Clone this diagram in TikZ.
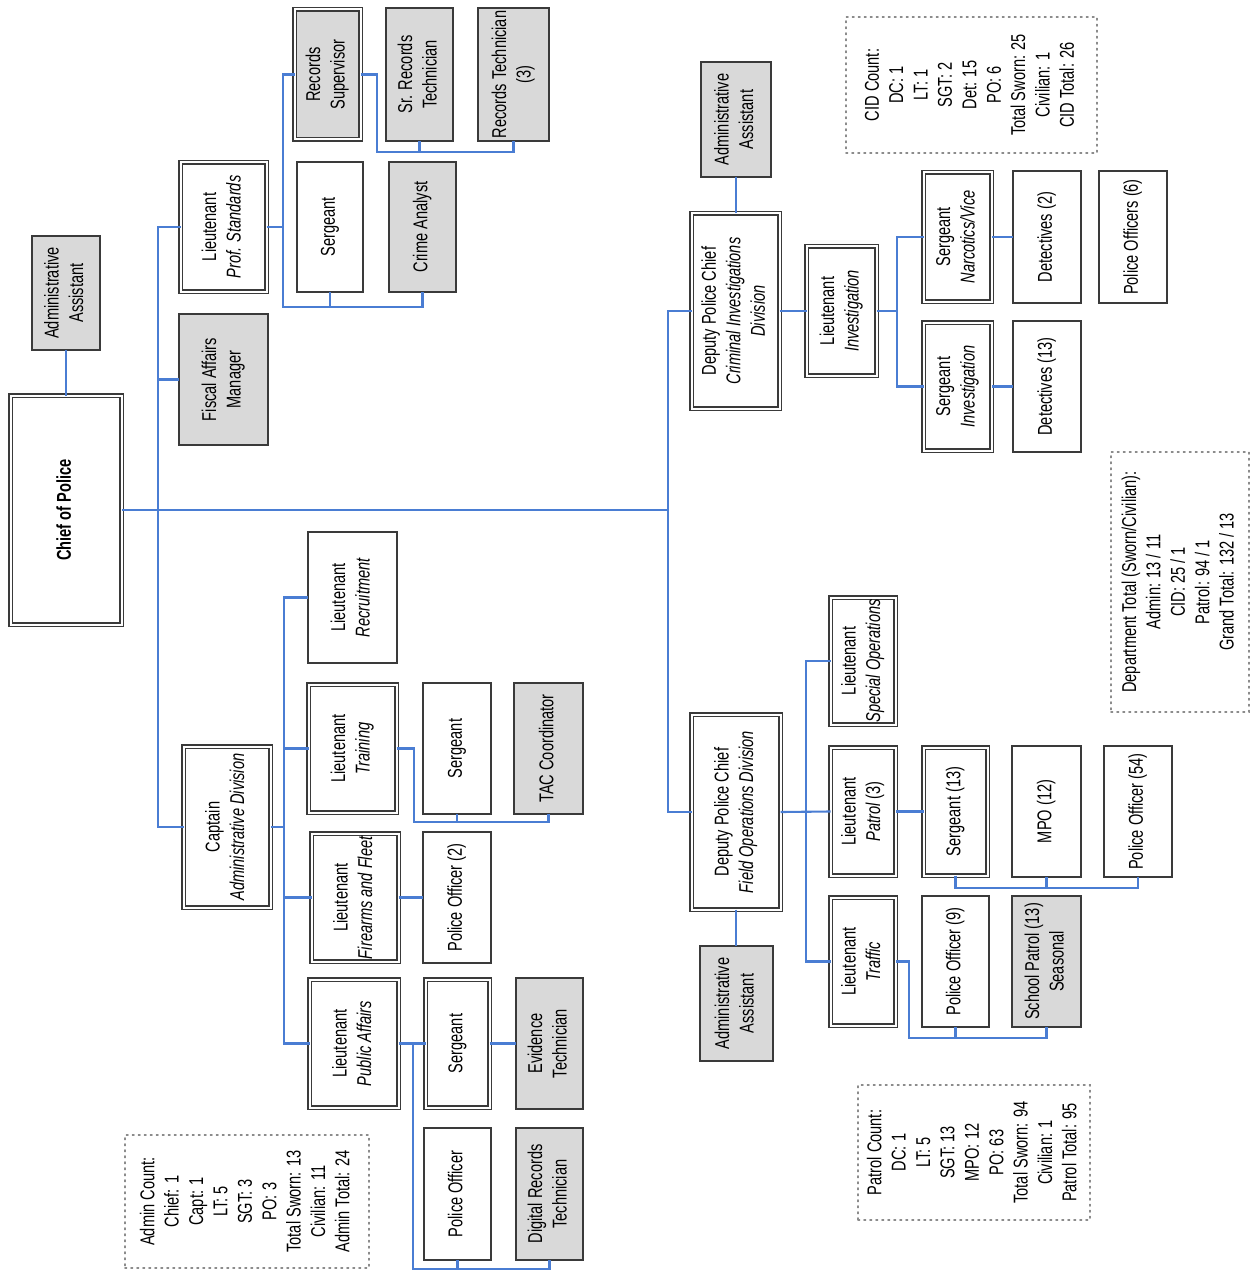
\documentclass[tikz,border=0pt]{standalone}
\usepackage{fontspec}
\setmainfont{Liberation Sans}[FakeStretch=0.73]
\usepackage{graphicx}
\definecolor{bordc}{HTML}{3A3A3A}
\definecolor{fillg}{HTML}{D9D9D9}
\definecolor{connc}{HTML}{4A7DD3}
\definecolor{dotc}{HTML}{8C8C8C}
\newcommand{\rt}[1]{\rotatebox{90}{\begin{tabular}{@{}c@{}}#1\end{tabular}}}
\begin{document}
\begin{tikzpicture}[x=1pt,y=-1pt,
  every node/.style={inner sep=0pt, outer sep=0pt, font=\fontsize{20}{24.4}\selectfont},
  box/.style={draw=bordc, line width=2pt, fill=white, rectangle},
  gbox/.style={box, fill=fillg},
  dbox/.style={box, double=white, double distance=2pt, line width=1.6pt},
  gdbox/.style={dbox, fill=fillg},
  countbox/.style={draw=dotc, line width=1.6pt, dash pattern=on 1.6pt off 4.4pt, line cap=round},
  conn/.style={draw=connc, line width=2.1pt}]
\useasboundingbox (0,0) rectangle (1250,1273);

% ---------- Admin side ----------
\node[gbox, minimum width=68, minimum height=114] (aa1) at (66,293) {\rt{Administrative\\Assistant}};
\node[dbox, minimum width=111, minimum height=229] (chief) at (66,510) {\rt{\textbf{Chief of Police}}};
\node[gbox, minimum width=89, minimum height=131] (fiscal) at (223.5,379.5) {\rt{Fiscal Affairs\\Manager}};
\node[dbox, minimum width=86, minimum height=129] (ltps) at (223.5,227) {\rt{Lieutenant\\\textit{Prof. Standards}}};
\node[gdbox, minimum width=66, minimum height=130] (recsup) at (327.5,74.5) {\rt{Records\\Supervisor}};
\node[gbox, minimum width=67, minimum height=133] (srrec) at (419.5,74.5) {\rt{Sr. Records\\Technician}};
\node[gbox, minimum width=71, minimum height=133] (rectech) at (513.5,74.5) {\rt{Records Technician\\(3)}};
\node[box, minimum width=66, minimum height=130] (sgtps) at (330,227) {\rt{Sergeant}};
\node[gbox, minimum width=67, minimum height=130] (crime) at (422.5,227) {\rt{Crime Analyst}};

\node[box, minimum width=89, minimum height=131] (ltrec) at (352.5,597.5) {\rt{Lieutenant\\\textit{Recruitment}}};
\node[dbox, minimum width=88, minimum height=128] (lttrain) at (352.5,748.5) {\rt{Lieutenant\\\textit{Training}}};
\node[box, minimum width=68, minimum height=131] (sgttr) at (457,748.5) {\rt{Sergeant}};
\node[gbox, minimum width=69, minimum height=131] (tac) at (548.5,748.5) {\rt{TAC Coordinator}};
\node[dbox, minimum width=87, minimum height=161] (captain) at (227,827) {\rt{Captain\\\textit{Administrative Division}}};
\node[dbox, minimum width=87, minimum height=128] (ltfire) at (355,897.5) {\rt{Lieutenant\\\textit{Firearms and Fleet}}};
\node[box, minimum width=68, minimum height=131] (po2) at (457,897.5) {\rt{Police Officer (2)}};
\node[dbox, minimum width=89, minimum height=128] (ltpa) at (354,1043.5) {\rt{Lieutenant\\\textit{Public Affairs}}};
\node[dbox, minimum width=64, minimum height=128] (sgtpa) at (457.5,1043.5) {\rt{Sergeant}};
\node[gbox, minimum width=67, minimum height=131] (evid) at (549.5,1043.5) {\rt{Evidence\\Technician}};
\node[box, minimum width=67, minimum height=132] (popa) at (457.5,1194) {\rt{Police Officer}};
\node[gbox, minimum width=67, minimum height=132] (drt) at (549.5,1194) {\rt{Digital Records\\Technician}};
\node[countbox, minimum width=244, minimum height=133] (admincount) at (247,1201.5) {\rt{Admin Count:\\Chief: 1\\Capt: 1\\LT: 5\\SGT: 3\\PO: 3\\Total Sworn: 13\\Civilian: 11\\Admin Total: 24}};

% ---------- CID ----------
\node[gbox, minimum width=70, minimum height=115] (aa2) at (736,119.5) {\rt{Administrative\\Assistant}};
\node[dbox, minimum width=88, minimum height=195] (dpccid) at (735.5,311) {\rt{Deputy Police Chief\\\textit{Criminal Investigations}\\\textit{Division}}};
\node[dbox, minimum width=70, minimum height=129] (ltinv) at (841.5,311) {\rt{Lieutenant\\\textit{Investigation}}};
\node[dbox, minimum width=68, minimum height=129] (sgtnv) at (957.5,237) {\rt{Sergeant\\\textit{Narcotics/Vice}}};
\node[dbox, minimum width=68, minimum height=128] (sgtinv) at (957.5,386.5) {\rt{Sergeant\\\textit{Investigation}}};
\node[box, minimum width=68, minimum height=132] (det2) at (1047,237) {\rt{Detectives (2)}};
\node[box, minimum width=68, minimum height=131] (det13) at (1047,386.5) {\rt{Detectives (13)}};
\node[box, minimum width=68, minimum height=132] (po6) at (1133,237) {\rt{Police Officers (6)}};
\node[countbox, minimum width=251, minimum height=136] (cidcount) at (971.5,85) {\rt{CID Count:\\DC: 1\\LT: 1\\SGT: 2\\Det: 15\\PO: 6\\Total Sworn: 25\\Civilian: 1\\CID Total: 26}};
\node[countbox, minimum width=138, minimum height=260] (depttotal) at (1180,582) {\rt{Department Total (Sworn/Civilian):\\Admin: 13 / 11\\CID: 25 / 1\\Patrol: 94 / 1\\Grand Total: 132 / 13}};

% ---------- Field Operations ----------
\node[dbox, minimum width=89, minimum height=195] (dpcfod) at (736,812) {\rt{Deputy Police Chief\\\textit{Field Operations Division}}};
\node[gbox, minimum width=73, minimum height=115] (aa3) at (736.5,1003.5) {\rt{Administrative\\Assistant}};
\node[dbox, minimum width=65, minimum height=127] (ltso) at (863,661) {\rt{Lieutenant\\\textit{Special Operations}}};
\node[dbox, minimum width=65, minimum height=128] (ltpat) at (863,811.5) {\rt{Lieutenant\\\textit{Patrol} (3)}};
\node[dbox, minimum width=64, minimum height=128] (sgt13) at (955.5,811.5) {\rt{Sergeant (13)}};
\node[box, minimum width=69, minimum height=131] (mpo) at (1046.5,811.5) {\rt{MPO (12)}};
\node[box, minimum width=68, minimum height=131] (po54) at (1138,811.5) {\rt{Police Officer (54)}};
\node[dbox, minimum width=65, minimum height=128] (lttraf) at (863,961.5) {\rt{Lieutenant\\\textit{Traffic}}};
\node[box, minimum width=67, minimum height=131] (po9) at (955.5,961.5) {\rt{Police Officer (9)}};
\node[gbox, minimum width=69, minimum height=131] (school) at (1046.5,961.5) {\rt{School Patrol (13)\\Seasonal}};
\node[countbox, minimum width=232, minimum height=135] (patcount) at (974,1152.5) {\rt{Patrol Count:\\DC: 1\\LT: 5\\SGT: 13\\MPO: 12\\PO: 63\\Total Sworn: 94\\Civilian: 1\\Patrol Total: 95}};

% ---------- connector helper coordinates ----------
\coordinate (tA) at (158,0);
\coordinate (dA) at (668,0);
\coordinate (psA) at (283,307);
\coordinate (rsA) at (377,152);
\coordinate (ivA) at (897,0);
\coordinate (cpA) at (284,0);
\coordinate (trA) at (414,822);
\coordinate (paA) at (413,1269);
\coordinate (foA) at (806,0);
\coordinate (ptA) at (0,888);
\coordinate (tfA) at (909,1038);

% ---------- connectors ----------
\draw[conn] (aa1.south) -- (aa1.south |- chief.north);
\draw[conn] (ltps.west) -- (ltps.west -| tA) -- (captain.west -| tA) -- (captain.west);
\draw[conn] (fiscal.west) -- (fiscal.west -| tA);
\draw[conn] (chief.east) -- (chief.east -| dA);
\draw[conn] (dpccid.west) -- (dpccid.west -| dA) -- (dpcfod.west -| dA) -- (dpcfod.west);

\draw[conn] (ltps.east) -- (ltps.east -| psA);
\draw[conn] (recsup.west) -| (psA) -| (crime.south);
\draw[conn] (sgtps.south) -- (sgtps.south |- psA);
\draw[conn] (recsup.east) -| (rsA) -| (rectech.south);
\draw[conn] (srrec.south) -- (srrec.south |- rsA);

\draw[conn] (aa2.south) -- (aa2.south |- dpccid.north);
\draw[conn] (dpccid.east) -- (ltinv.west);
\draw[conn] (ltinv.east) -- (ltinv.east -| ivA);
\draw[conn] (sgtnv.west) -| (ivA |- sgtinv.west) -- (sgtinv.west);
\draw[conn] (sgtnv.east) -- (det2.west);
\draw[conn] (sgtinv.east) -- (det13.west);

\draw[conn] (captain.east) -- (captain.east -| cpA);
\draw[conn] (ltrec.west) -| (cpA |- ltpa.west) -- (ltpa.west);
\draw[conn] (lttrain.west) -- (lttrain.west -| cpA);
\draw[conn] (ltfire.west) -- (ltfire.west -| cpA);
\draw[conn] (lttrain.east) -| (trA) -| (tac.south);
\draw[conn] (sgttr.south) -- (sgttr.south |- trA);
\draw[conn] (ltfire.east) -- (po2.west);
\draw[conn] (ltpa.east) -- (sgtpa.west);
\draw[conn] (sgtpa.east) -- (evid.west);
\draw[conn] (ltpa.east -| paA) -- (paA) -| (drt.south);
\draw[conn] (popa.south) -- (popa.south |- paA);

\draw[conn] (dpcfod.south) -- (dpcfod.south |- aa3.north);
\draw[conn] (dpcfod.east) -- (ltpat.west);
\draw[conn] (ltso.west) -| (foA |- lttraf.west) -- (lttraf.west);
\draw[conn] (ltpat.east) -- (sgt13.west);
\draw[conn] (sgt13.south) -- (sgt13.south |- ptA) -- (po54.south |- ptA) -- (po54.south);
\draw[conn] (mpo.south) -- (mpo.south |- ptA);
\draw[conn] (lttraf.east) -| (tfA) -| (school.south);
\draw[conn] (po9.south) -- (po9.south |- tfA);
\end{tikzpicture}
\end{document}
